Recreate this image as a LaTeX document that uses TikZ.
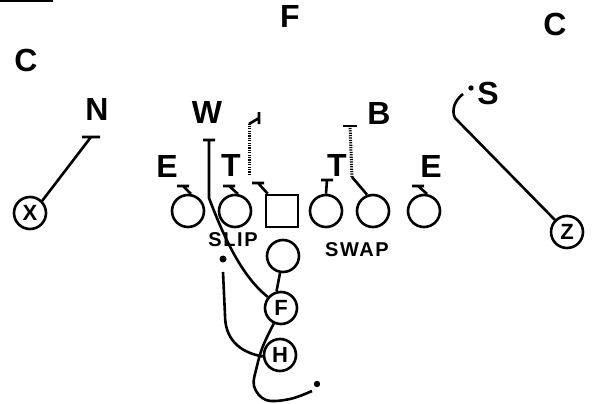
\documentclass[tikz,border=0pt]{standalone}
\usepackage{fontspec}
\setmainfont{Liberation Sans}
\newfontfamily\spacedfont[LetterSpace=8]{Liberation Sans}
\begin{document}
\begin{tikzpicture}[x=1pt,y=-1pt, line width=2.6pt,
  lbl/.style={font=\fontsize{32}{32}\bfseries\selectfont, inner sep=0pt},
  lblsm/.style={font=\spacedfont\fontsize{20}{20}\bfseries\selectfont, inner sep=0pt},
  player/.style={circle, draw, line width=2.6pt, minimum size=32pt, inner sep=0pt, font=\fontsize{22}{22}\bfseries\selectfont},
  ctr/.style={rectangle, draw, line width=2.6pt, minimum size=32pt, inner sep=0pt},
  dotln/.style={line width=3pt, dash pattern=on 1.2pt off 1.2pt},
  ]
\useasboundingbox (0,0) rectangle (597,404);
\fill (0,0) rectangle (53,2.5);
% labels
\node[lbl] (lF) at (290,16) {F};
\node[lbl] (lCL) at (26,60) {C};
\node[lbl] (lCR) at (555,24) {C};
\node[lbl] (lN) at (97,109) {N};
\node[lbl] (lW) at (207,112) {W};
\node[lbl] (lB) at (379,113) {B};
\node[lbl] (lS) at (488,93) {S};
\node[lbl] (lE1) at (167,166) {E};
\node[lbl] (lT1) at (231,165) {T};
\node[lbl] (lT2) at (337,165) {T};
\node[lbl] (lE2) at (431,166) {E};
\node[lblsm] (slip) at (233,240) {SLIP};
\node[lblsm] (swap) at (357,250) {SWAP};
% players
\node[player] (p1) at (188,211) {};
\node[player] (p2) at (235,211) {};
\node[ctr] (c) at (282,211) {};
\node[player] (p4) at (326,211) {};
\node[player] (p5) at (373,211) {};
\node[player] (p6) at (424,211) {};
\node[player] (qb) at (283,256) {};
\node[player] (F) at (281,308) {F};
\node[player] (H) at (280,355) {H};
\node[player] (X) at (30,213) {X};
\node[player] (Z) at (567,232) {Z};
% tee points
\coordinate (t1) at (183,186);
\coordinate (t2) at (229,186);
\coordinate (tc) at (258,183);
\coordinate (t4) at (327,180);
\coordinate (t6) at (418,186);
\coordinate (b5) at (352,177);
\coordinate (t5) at (350,126);
\coordinate (dl0) at (249,175);
\coordinate (dl1) at (249,124);
\coordinate (dl2) at (259,118);
\coordinate (tn) at (91,137);
\coordinate (tw) at (209,140);
\coordinate (zb) at (455,118);
\coordinate (zs) at (463,94);
\coordinate (fe) at (312,391);
\coordinate (he) at (223,272);
% line blocks
\draw (p1.80) -- (t1) ++(-6,0) -- ++(12,0);
\draw (p2.80) -- (t2) ++(-6,0) -- ++(12,0);
\draw ([xshift=3pt]c.north west) -- (tc) ++(-6,0) -- ++(12,0);
\draw (p4.north) -- (t4) ++(-6,0) -- ++(12,0);
\draw (p6.80) -- (t6) ++(-6,0) -- ++(12,0);
\draw (p5.110) -- (b5);
\draw[dotln] (b5) -- (t5);
\draw (t5) ++(-7,0) -- ++(14,0);
\draw[dotln] (dl0) -- (dl1);
\draw (dl1) -- (dl2) ++(0,-6) -- ++(0,12);
% perimeter
\draw (X.45) -- (tn) ++(-9,0) -- ++(18,0);
\draw (Z.135) -- (zb) .. controls (451,110) and (455,100) .. (zs);
\fill (471,88) circle (2.7);
% backfield
\draw (F.140) .. controls (240,275) and (222,232) .. (209,198) -- (tw) ++(-6,0) -- ++(12,0);
\draw (qb.260) -- (F.105);
\draw plot[smooth, tension=0.6] coordinates {(F.245) (263,346) (257,366) (254,386) (266,400) (290,399) (fe)};
\fill (317,384) circle (3.2);
\draw (H.185) .. controls (238,352) and (225,338) .. (225,315) -- (he);
\fill (223,259) circle (3.5);
\end{tikzpicture}
\end{document}
